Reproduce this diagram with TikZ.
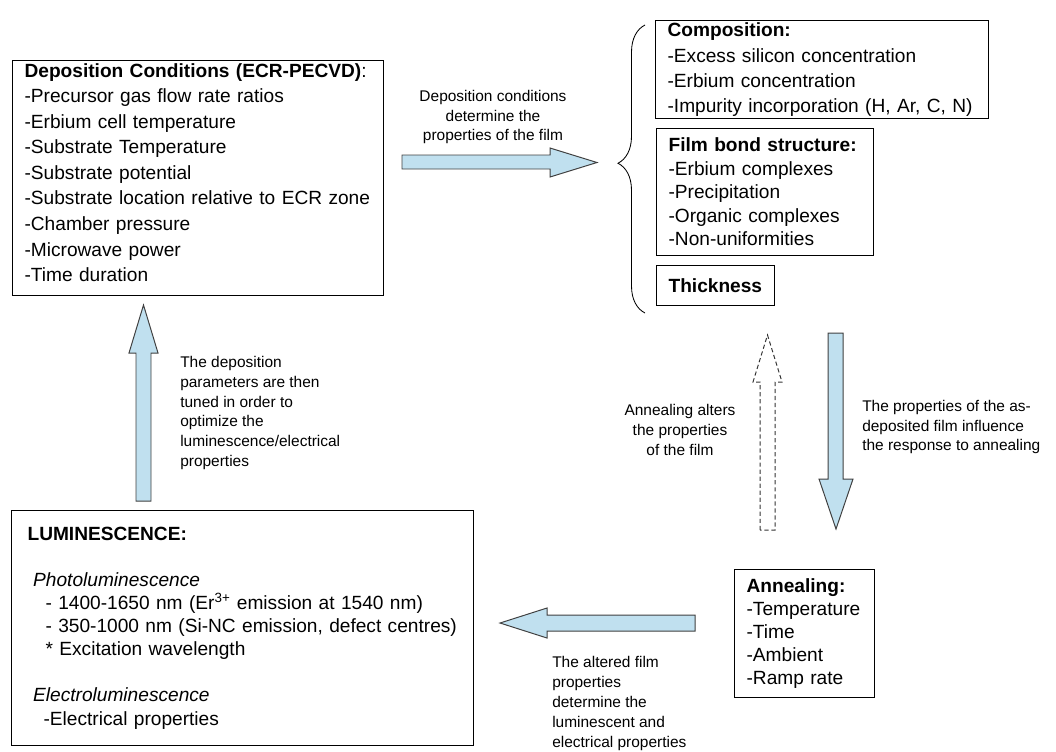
\documentclass[tikz,border=0pt]{standalone}
\usepackage{fontspec}
\setmainfont{Liberation Sans}
\usetikzlibrary{decorations.pathreplacing}

\definecolor{arrowblue}{RGB}{192,224,239}

\tikzset{
  box/.style={draw, line width=0.8pt, inner xsep=0.3cm, inner ysep=0pt,
    align=left, anchor=north west, font=\fontsize{13.6}{18}\selectfont},
  note/.style={inner sep=0pt, font=\fontsize{11}{14.2}\selectfont},
  bigarrow/.style={draw=black!75, line width=0.7pt, fill=arrowblue},
  openarrow/.style={draw=black!80, line width=0.7pt, dash pattern=on 3pt off 2pt},
}

\begin{document}
\begin{tikzpicture}[x=0.025cm, y=-0.025cm]
    \useasboundingbox (0,0) rectangle (1056,751);

    % deposition conditions
    \node[box, text width=8.675cm, minimum height=5.875cm, font=\fontsize{13.6}{18.2}\selectfont] (dep) at (12,60)
        {\textbf{Deposition Conditions (ECR-PECVD)}:\\-Precursor gas flow rate ratios\\-Erbium cell temperature\\-Substrate Temperature\\-Substrate potential\\-Substrate location relative to ECR zone\\-Chamber pressure\\-Microwave power\\-Time duration\rule[-8pt]{0pt}{0pt}};

    % film properties
    \node[box, text width=7.725cm, minimum height=2.45cm, font=\fontsize{13.6}{17.8}\selectfont] (comp) at (655,20)
        {\textbf{Composition:}\\-Excess silicon concentration\\-Erbium concentration\\-Impurity incorporation (H, Ar, C, N)};
    \node[box, text width=4.825cm, minimum height=3.175cm, font=\fontsize{13.6}{16.7}\selectfont] (bond) at (656,128)
        {\textbf{Film bond structure:}\\-Erbium complexes\\-Precipitation\\-Organic complexes\\-Non-uniformities};
    \node[box, text width=2.35cm, minimum height=1cm] (thick) at (656,265) {\textbf{Thickness}};
    \draw[line width=0.6pt, decorate, decoration={brace, amplitude=0.675cm, aspect=0.52}] (645,313) -- (645,25);

    % annealing
    \node[box, text width=2.9cm, minimum height=3.2cm, font=\fontsize{13.6}{16.3}\selectfont] (anneal) at (734,569)
        {\textbf{Annealing:}\\-Temperature\\-Time\\-Ambient\\-Ramp rate};

    % luminescence
    \node[box, inner xsep=0.4cm, text width=10.75cm, minimum height=5.875cm, font=\fontsize{13.6}{16.4}\selectfont] (lum) at (11,510)
        {\textbf{LUMINESCENCE:}\\[16.4pt]
         \hspace*{1.4mm}\textit{Photoluminescence}\\
         \hspace*{4.5mm}- 1400-1650 nm (Er\textsuperscript{3+} emission at 1540 nm)\\
         \hspace*{4.5mm}- 350-1000 nm (Si-NC emission, defect centres)\\
         \hspace*{4.5mm}* Excitation wavelength\\[16.4pt]
         \hspace*{1.4mm}\textit{Electroluminescence}\\
         \hspace*{4mm}-Electrical properties};

    % block arrows
    \draw[bigarrow] (402,155) -- (550,155) -- (550,148) -- (597,162.5) -- (550,177) -- (550,169) -- (402,169) -- cycle;
    \draw[bigarrow] (828,333) -- (843,333) -- (843,479) -- (853,479) -- (836,529) -- (819,479) -- (828,479) -- cycle;
    \draw[openarrow] (760,530) -- (760,382) -- (753,382) -- (767.5,335) -- (782,382) -- (775,382) -- (775,530) -- cycle;
    \draw[bigarrow] (695,615) -- (547,615) -- (547,608) -- (500,623) -- (547,638) -- (547,631) -- (695,631) -- cycle;
    \draw[bigarrow] (136,501) -- (136,353) -- (129,353) -- (143.5,305) -- (158,353) -- (151,353) -- (151,501) -- cycle;

    % arrow labels
    \node[note, align=center] (determine) at (493,117) {Deposition conditions\\determine the\\properties of the film};
    \node[note, align=left, anchor=west] (tuned) at (180,413)
        {The deposition\\parameters are then\\tuned in order to\\optimize the\\luminescence/electrical\\properties};
    \node[note, align=center] (alters) at (680,430) {Annealing alters\\the properties\\of the film};
    \node[note, align=left, anchor=west] (influence) at (862,427)
        {The properties of the as-\\deposited film influence\\the response to annealing};
    \node[note, align=left, anchor=west] (altered) at (552,703.5)
        {The altered film\\properties\\determine the\\luminescent and\\electrical properties};
\end{tikzpicture}
\end{document}
